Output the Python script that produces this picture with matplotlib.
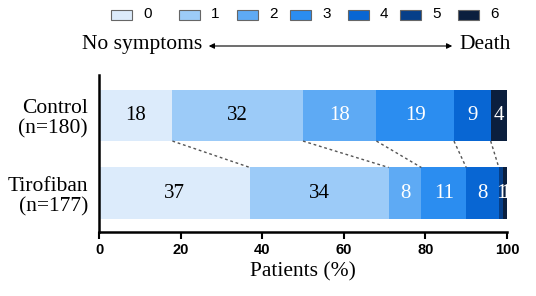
import matplotlib
matplotlib.use("Agg")
import matplotlib.pyplot as plt
import numpy as np

groups = ["Control\n(n=180)", "Tirofiban\n(n=177)"]
scores = ["0", "1", "2", "3", "4", "5", "6"]
control = [18, 32, 18, 19, 9, 0, 4]
tirofiban = [37, 34, 8, 11, 8, 1, 1]
colors = ["#dcebfb", "#9ccbf8", "#5eaaf4", "#2b8df0", "#0866d3", "#063f89", "#0b1f3e"]
text_colors = ["black", "black", "white", "white", "white", "white", "white"]

W, H = 536, 296
fig = plt.figure(figsize=(W / 100, H / 100), dpi=100)
ax = fig.add_axes([99 / W, 1 - 232 / H, (507 - 99) / W, (232 - 75) / H])

serif = "Liberation Serif"
sans = "Liberation Sans"

ypos = [1, 0]
bh = 0.66
data = [control, tirofiban]
for y, vals in zip(ypos, data):
    left = 0
    for i, v in enumerate(vals):
        if v > 0:
            ax.barh(y, v, left=left, height=bh, color=colors[i], edgecolor="none")
            ax.text(left + v / 2, y, str(v), ha="center", va="center",
                    color=text_colors[i], family=serif, fontsize=15)
        left += v

# dotted connectors between cumulative boundaries
cc = np.cumsum([0] + control)
ct = np.cumsum([0] + tirofiban)
for k in range(1, 6):
    ax.plot([cc[k], ct[k]], [1 - bh / 2, 0 + bh / 2], linestyle=(0, (2, 2)),
            color="#555555", linewidth=1)

ax.set_xlim(0, 100)
ax.set_ylim(-0.5, 1.52)
ax.set_xticks([0, 20, 40, 60, 80, 100])
ax.set_yticks(ypos)
ax.set_yticklabels(groups, family=serif, fontsize=15.5, linespacing=1.1)
for lab in ax.get_xticklabels():
    lab.set_family(sans)
    lab.set_fontweight("bold")
    lab.set_fontsize(10.5)
ax.tick_params(axis="y", length=0, pad=8)
ax.tick_params(axis="x", length=5, width=1.5, pad=3)
for s in ["top", "right"]:
    ax.spines[s].set_visible(False)
ax.spines["left"].set_linewidth(1.8)
ax.spines["bottom"].set_linewidth(1.8)
ax.set_xlabel("Patients (%)", family=serif, fontsize=15.5, labelpad=4)

# legend (drawn manually to match spacing)
patch_x = [111, 179, 237, 290, 348, 400, 458]
for px, c, s in zip(patch_x, colors, scores):
    fig.add_artist(matplotlib.patches.Rectangle((px / W, 1 - 19.5 / H), 21 / W, 10 / H,
                   transform=fig.transFigure, facecolor=c, edgecolor="#666666", linewidth=0.8))
    fig.text((px + 32) / W, 1 - 14.5 / H, s, ha="left", va="center", family=sans, fontsize=11)

# severity arrow
fig.text(202 / W, 1 - 45 / H, "No symptoms", ha="right", va="center", family=serif, fontsize=15.5)
fig.text(459 / W, 1 - 45 / H, "Death", ha="left", va="center", family=serif, fontsize=15.5)
fig.add_artist(matplotlib.patches.FancyArrowPatch((206 / W, 1 - 46 / H), (455 / W, 1 - 46 / H),
               transform=fig.transFigure, arrowstyle="<|-|>", mutation_scale=8,
               color="black", linewidth=0.8))

fig.savefig("out.png", dpi=100)
